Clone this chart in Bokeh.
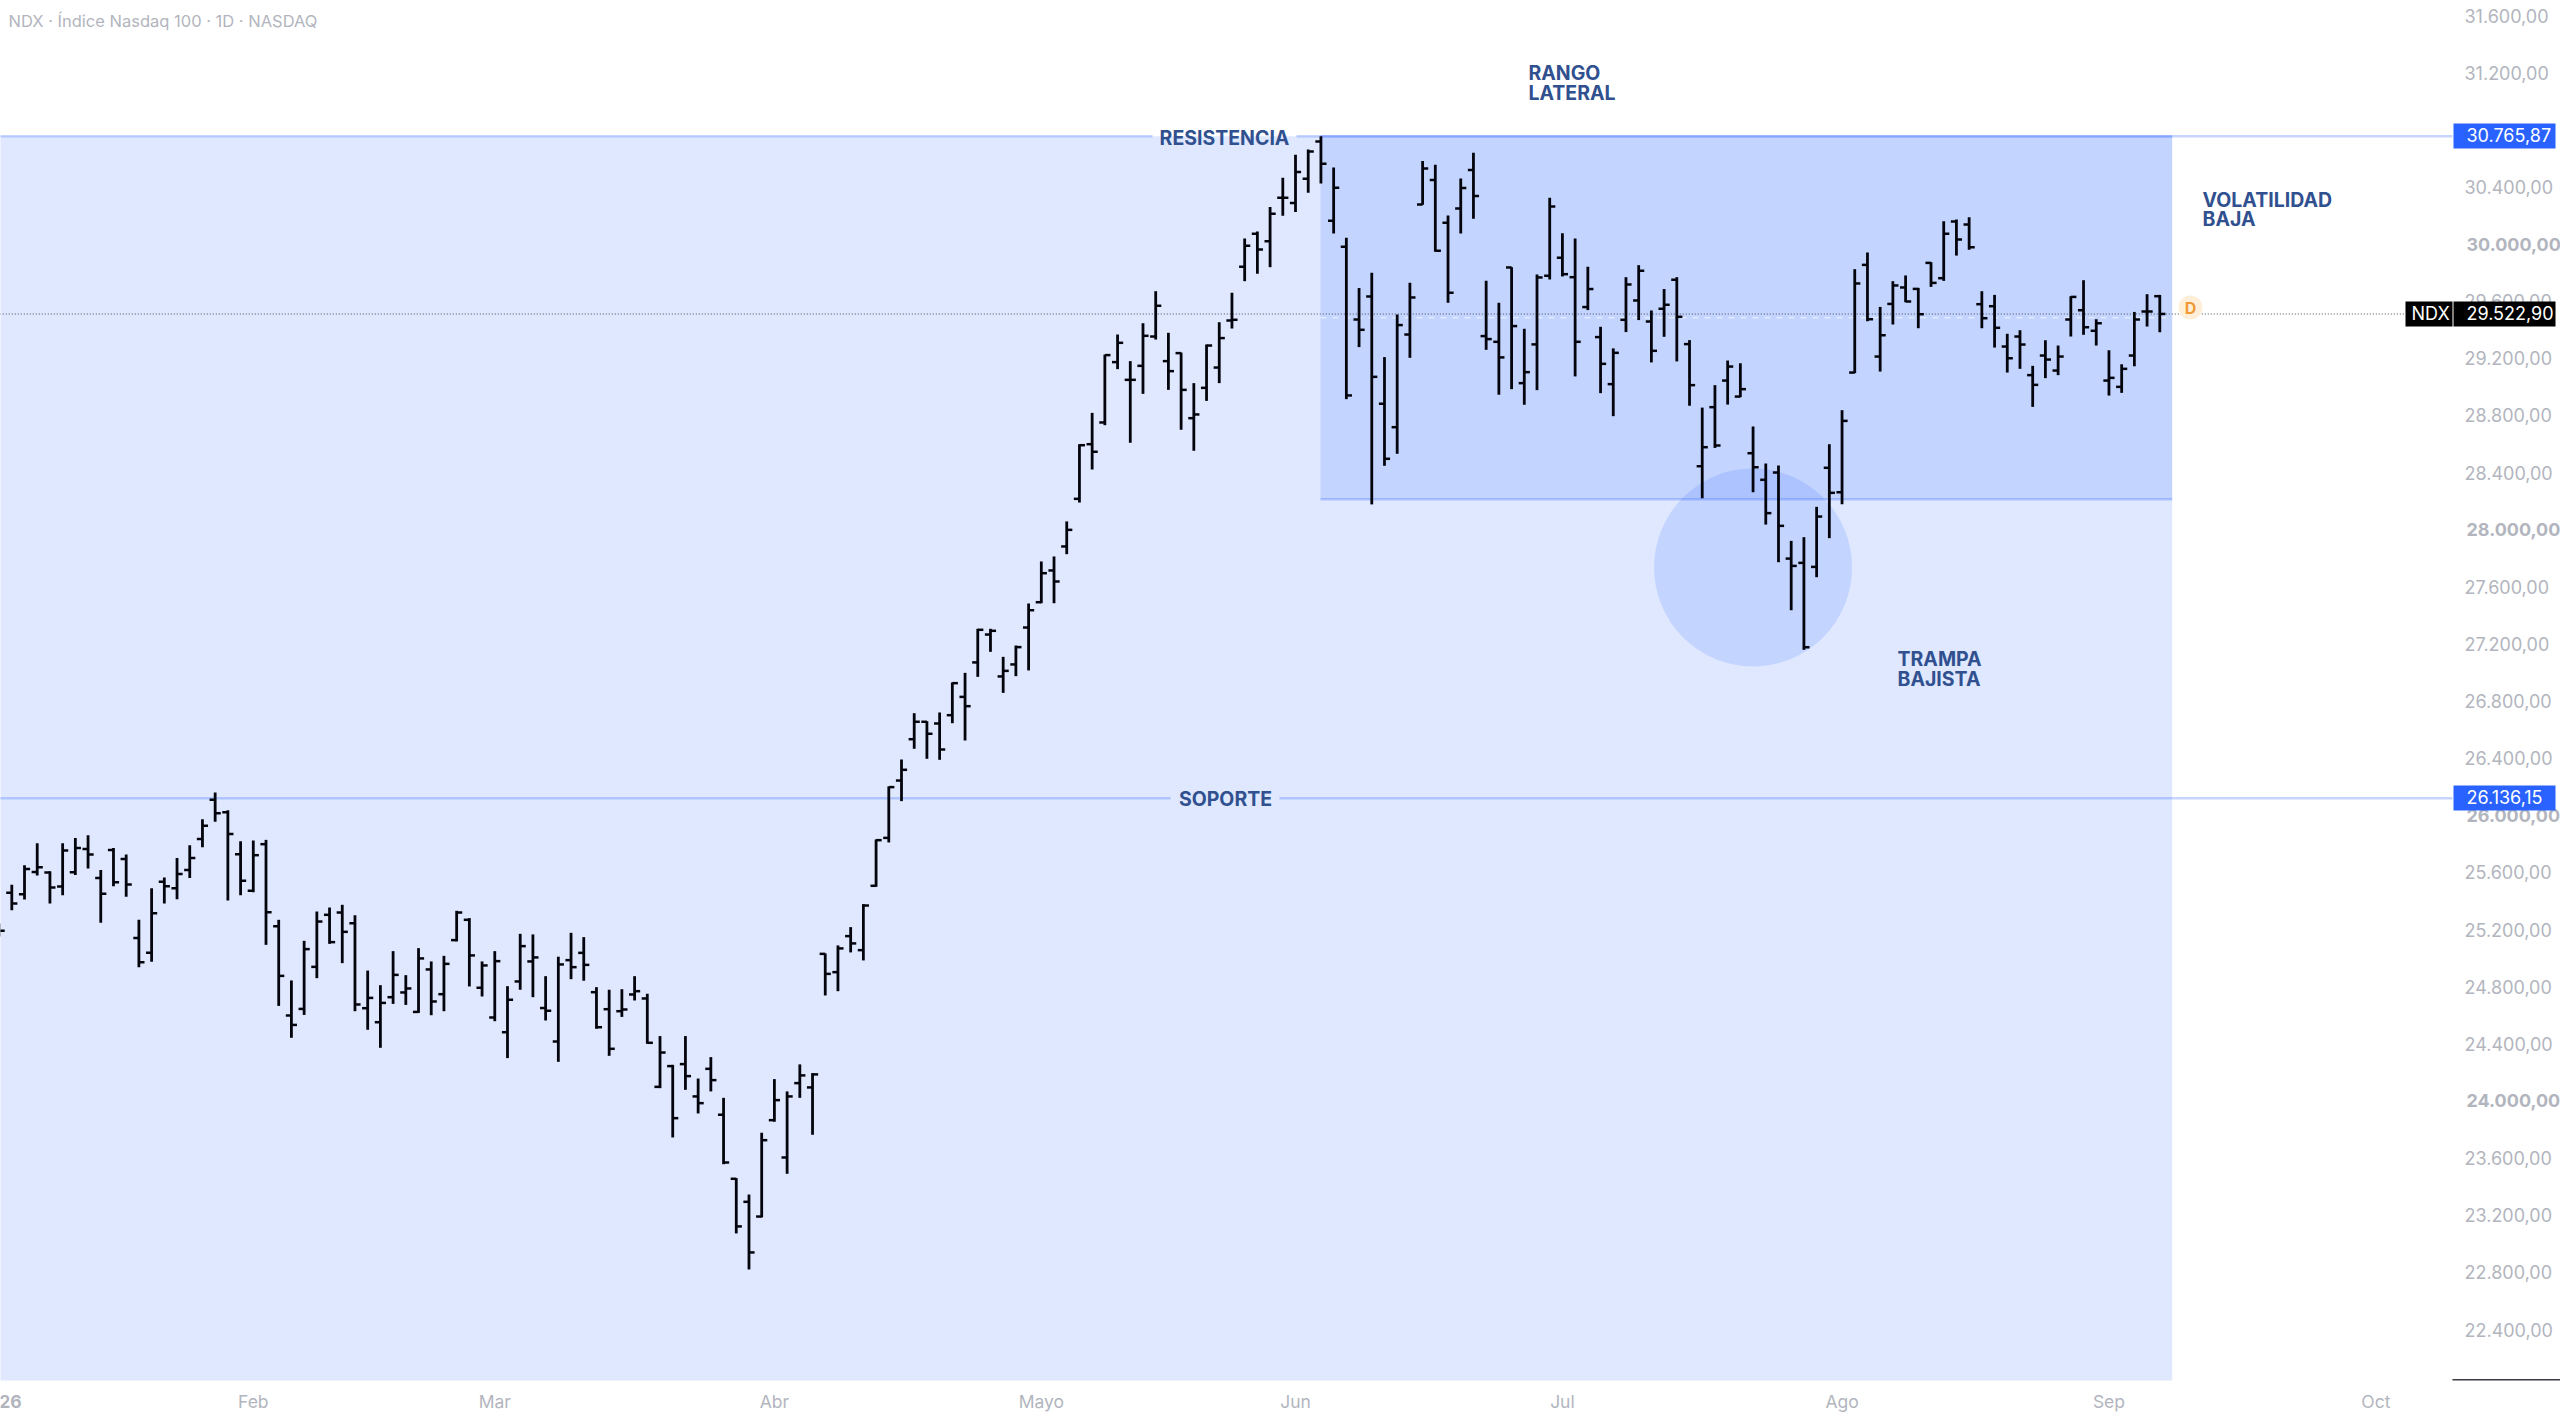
from bokeh.plotting import figure
from bokeh.embed import file_html
from bokeh.resources import INLINE
from bokeh.models import Range1d, FixedTicker, Label
from bokeh.core.properties import value

# ---- OHLC values, one entry per daily bar, starting with the bar cut by the left edge ----
opens = [25230,25475,25465,25621,25617,25519,25619,25782,25579,25775,25712,25158,25055,25552,25507,25635,25852,26125,26039,25745,25489,
25815,25241,24617,24663,24957,25321,25337,25262,24668,24570,24745,24778,24642,24939,24766,25144,25286,24811,24603,24500,
24855,24995,24669,24435,25004,25055,24780,24661,24647,24764,24736,24118,24263,24277,24051,24244,23923,23475,23314,23211,
23885,23624,24144,24114,25048,24920,25172,25074,25524,25859,26260,26549,26671,26659,26717,26845,27086,27281,26988,27072,
27330,27507,27729,27897,28230,28612,28764,29186,29062,29160,29365,29193,29249,28794,29006,29148,29477,29853,30083,30032,
30335,30298,30468,30729,30174,29993,29484,29645,28895,28731,29379,30289,30459,30160,30261,30529,29368,29328,29848,29039,
29310,29790,29916,29780,29571,29361,29032,29482,29617,29470,29559,29762,29312,28458,28871,29057,28945,28549,28363,28414,
27812,27782,27754,28447,28276,29113,29866,29225,29593,29708,29698,29880,29773,30169,30148,29591,29577,29295,29365,29095,
29232,29127,29484,29549,29405,29057,29013,29232,29540,29647]
highs = [25260,25531,25668,25822,25626,25822,25859,25878,25635,25789,25743,25286,25507,25582,25719,25808,25990,26176,26053,25836,25841,
25845,25286,24862,25139,25344,25372,25391,25318,24931,24829,25067,24899,25088,24995,25034,25349,25298,24995,25067,24822,
25188,25184,24892,25028,25195,25165,24815,24797,24801,24892,24769,24473,24272,24473,24176,24326,24041,23480,23365,23797,
24172,24086,24275,24214,25051,25107,25235,25396,25848,26219,26407,26731,26675,26736,26946,27013,27321,27321,27125,27204,
27498,27792,27827,28072,28612,28831,29239,29379,29193,29458,29682,29391,29253,29039,29309,29465,29671,30051,30100,30270,
30475,30636,30673,30766,30547,30055,29704,29811,29221,29519,29741,30592,30566,30212,30470,30650,29755,29601,29850,29419,
29799,30335,30088,30051,29853,29433,29282,29780,29864,29547,29697,29780,29340,28868,29025,29197,29178,28736,28477,28463,
27936,27962,28174,28612,28850,29836,29952,29572,29752,29792,29705,29885,30171,30183,30199,29682,29656,29384,29409,29160,
29339,29302,29647,29759,29486,29269,29171,29537,29661,29656]
lows = [25170,25353,25428,25596,25400,25458,25600,25645,25265,25521,25447,24955,24992,25400,25430,25579,25794,25971,25421,25458,25479,
25111,24684,24461,24621,24878,25118,24983,24647,24517,24391,24698,24691,24635,24619,24647,25135,24820,24750,24577,24319,
24797,24745,24582,24293,24871,24860,24524,24335,24607,24722,24419,24109,23764,24097,23932,24086,23577,23093,22841,23205,
23874,23510,24041,23783,24757,24787,25058,25002,25517,25827,26116,26482,26412,26405,26661,26540,26985,27160,26873,26990,
27030,27500,27500,27843,28204,28435,28745,29137,28622,28964,29344,28992,28713,28566,28915,29039,29421,29752,29804,29850,
30209,30235,30370,30435,30086,28927,29291,28191,28461,28545,29216,30286,29958,29601,30086,30188,29272,28958,28997,28888,
28990,29764,29785,29086,29550,28969,28808,29396,29480,29184,29363,29191,28881,28234,28586,28889,28941,28276,28050,27787,
27451,27174,27682,27955,28192,29109,29472,29120,29449,29605,29423,29712,29754,29931,29971,29423,29288,29113,29139,28873,
29074,29095,29365,29377,29302,28952,28971,29157,29435,29395]
closes = [25209,25400,25642,25654,25512,25771,25789,25743,25468,25549,25533,24990,25332,25521,25607,25719,25943,26032,25887,25559,25738,
25339,24894,24551,25081,25274,25130,25202,24694,24740,24705,24901,24806,25016,24715,24978,25337,25037,24967,24997,24727,
25102,25023,24650,24974,24955,24971,24535,24384,24659,24787,24426,24358,23899,24193,24004,24165,23589,23142,22960,23745,
24025,24051,24198,24205,24908,25086,25121,25386,25843,26214,26335,26671,26587,26477,26941,26780,27314,27307,27027,27193,
27451,27710,27652,28013,28605,28559,29235,29321,29062,29370,29580,29123,28992,28820,29302,29354,29482,30000,29974,30223,
30335,30515,30659,30573,30405,28953,29412,29083,28510,29445,29638,30540,29965,29671,30403,30347,29347,29219,29438,29116,
29778,30275,29801,29328,29697,29174,29251,29729,29825,29265,29587,29503,29025,28591,28603,29155,28997,28451,28130,28041,
27761,27192,28106,28272,28775,29736,29486,29374,29722,29610,29521,29740,30083,30043,29990,29493,29426,29213,29309,29027,
29204,29225,29642,29430,29458,29076,29139,29484,29540,29522.9]

y_ticks = [22400,22800,23200,23600,24000,24400,24800,25200,25600,26000,26400,26800,27200,27600,28000,28400,28800,29200,29600,30000,30400,31200,31600]
y_tick_labels = ["22.400,00","22.800,00","23.200,00","23.600,00","24.000,00","24.400,00","24.800,00","25.200,00","25.600,00","26.000,00","26.400,00","26.800,00","27.200,00","27.600,00","28.000,00","28.400,00","28.800,00","29.200,00","29.600,00","30.000,00","30.400,00","31.200,00","31.600,00"]
y_bold = [24000, 26000, 28000, 30000]
x_ticks = [19, 38, 60, 81, 101, 122, 144, 165, 186]
x_tick_labels = ["Feb", "Mar", "Abr", "Mayo", "Jun", "Jul", "Ago", "Sep", "Oct"]
year_tick = -1
year_label = "2026"

resistance = 30765.87
support = 26136.15
last_price = 29522.90
range_low = 28227.6
trap_center = (137.0, 27750.0)

BLUE = "#2962FF"
NAVY = "#30508F"
GREY = "#B2B5BE"
FONT = "Inter"

W, H = 2560, 1414
AXIS_X = 2452
AXIS_Y = 1380

# placement helpers: reference pixel -> data position, used for annotations only
def fx(px):
    return (px - 11.3) / 12.71
def fy(py):
    return 31714.8 - 6.993 * py
# the price scale's labels sit a little above the level they name
def ftick(py):
    return 31600 - (py - 15) * 9200 / 1314

p = figure(width=W, height=H, output_backend="svg", toolbar_location=None,
           x_range=Range1d(fx(0), fx(W)), y_range=Range1d(fy(H), fy(0)),
           extra_y_ranges={"ticks": Range1d(ftick(H), ftick(0))},
           y_axis_location="right", min_border=0,
           background_fill_color="white", border_fill_color="white", outline_line_color=None)
p.grid.visible = False

p.yaxis.y_range_name = "ticks"
p.yaxis.fixed_location = fx(AXIS_X)
p.yaxis.ticker = FixedTicker(ticks=y_ticks)
p.yaxis.major_label_overrides = {t: ("" if t in y_bold else l) for t, l in zip(y_ticks, y_tick_labels)}
p.yaxis.axis_line_color = None
p.yaxis.major_tick_line_color = None
p.yaxis.minor_tick_line_color = None
p.yaxis.major_label_standoff = 6
p.yaxis.major_label_text_font = FONT
p.yaxis.major_label_text_font_size = "18px"
p.yaxis.major_label_text_color = GREY

p.xaxis.fixed_location = fy(AXIS_Y)
p.xaxis.ticker = FixedTicker(ticks=x_ticks + [year_tick])
p.xaxis.major_label_overrides = {**dict(zip(x_ticks, x_tick_labels)), year_tick: ""}
p.xaxis.axis_line_color = None
p.xaxis.major_tick_line_color = None
p.xaxis.minor_tick_line_color = None
p.xaxis.major_label_standoff = 4
p.xaxis.major_label_text_font = FONT
p.xaxis.major_label_text_font_size = "17.5px"
p.xaxis.major_label_text_color = GREY

# shaded zones
xl, xr = fx(0) - 1, fx(2171.7)
p.quad(left=[xl], right=[xr], top=[resistance], bottom=[fy(AXIS_Y)], fill_color=BLUE, fill_alpha=0.15, line_color=None)
p.quad(left=[fx(1320)], right=[xr], top=[resistance], bottom=[range_low], fill_color=BLUE, fill_alpha=0.15, line_color=None)
p.scatter(x=[trap_center[0]], y=[trap_center[1]], size=198, marker="circle", fill_color=BLUE, fill_alpha=0.15, line_color=None)

# horizontal levels with a gap for their caption
for level, g0, g1 in [(resistance, 1152, 1296), (support, 1170, 1279)]:
    p.segment(x0=[xl, fx(g1)], x1=[fx(g0), fx(AXIS_X)], y0=[level, level], y1=[level, level],
              line_color=BLUE, line_alpha=0.26, line_width=2.5)
p.segment(x0=[fx(1320), fx(1320)], x1=[xr, xr], y0=[resistance, range_low], y1=[resistance, range_low],
          line_color=BLUE, line_alpha=0.26, line_width=2.5)
p.line(x=[fx(1320), xr], y=[(resistance + range_low) / 2] * 2, line_color="white", line_alpha=0.75, line_width=1.1, line_dash="6 6")
p.line(x=[xl, fx(2405)], y=[last_price] * 2, line_color="#4a4d57", line_width=1.1, line_dash="1 2")

# OHLC bars
idx = list(range(-1, len(opens) - 1))
TICK = 0.44
p.segment(x0=idx, x1=idx, y0=lows, y1=highs, line_color="#04040c", line_width=2.8)
p.segment(x0=[i - TICK for i in idx], x1=idx, y0=opens, y1=opens, line_color="#04040c", line_width=2.5)
p.segment(x0=idx, x1=[i + TICK for i in idx], y0=closes, y1=closes, line_color="#04040c", line_width=2.5)

# D marker
p.scatter(x=[fx(2190)], y=[fy(307)], size=24, marker="circle", fill_color="#FFEFD9", line_color=None)
p.text(x=[fx(2190)], y=[fy(307)], text=["D"], text_align="center", text_baseline="middle",
       text_font=value(FONT), text_font_style="bold", text_font_size="16px", text_color="#F09A37")

# captions
def cap(px, py, s, align="left"):
    p.text(x=[fx(px)], y=[fy(py)], text=[s], text_align=align, text_baseline="middle", text_font=value(FONT),
           text_font_style="bold", text_font_size="19.5px", text_color=NAVY)

cap(1528, 72, "RANGO")
cap(1528, 92, "LATERAL")
cap(2202, 199, "VOLATILIDAD")
cap(2202, 218, "BAJA")
cap(1897, 658, "TRAMPA")
cap(1897, 678, "BAJISTA")
cap(1224, 137, "RESISTENCIA", "center")
cap(1225, 798, "SOPORTE", "center")

p.text(x=[fx(8)], y=[fy(20)], text=["NDX · Índice Nasdaq 100 · 1D · NASDAQ"], text_align="left", text_baseline="middle",
       text_font=value(FONT), text_font_size="16.5px", text_color=GREY)

# bold tick labels
for t, l in zip(y_ticks, y_tick_labels):
    if t in y_bold:
        p.add_layout(Label(x=fx(2466), y=t, y_range_name="ticks", text=l, text_font=FONT, text_font_size="18px", text_font_style="bold",
                           text_color=GREY, text_baseline="middle", text_align="left"))
p.add_layout(Label(x=year_tick, y=fy(1401), text=year_label, text_font=FONT, text_font_size="17.5px", text_font_style="bold",
                   text_color=GREY, text_baseline="middle", text_align="center"))

# price tags drawn above the axis labels
def tag(left, right, top, bottom, tx, s, color):
    p.quad(left=[fx(left)], right=[fx(right)], top=[fy(top)], bottom=[fy(bottom)], fill_color=color, line_color=None, level="overlay")
    p.text(x=[fx(tx)], y=[fy((top + bottom) / 2 - 1)], text=[s], text_align="left", text_baseline="middle", text_font=value(FONT),
           text_font_size="18px", text_color="white", level="overlay")

tag(2453, 2555, 123, 148, 2466, "30.765,87", BLUE)
tag(2453, 2555, 785, 810, 2466, "26.136,15", BLUE)
tag(2405, 2452, 301, 326, 2411, "NDX", "black")
tag(2453, 2555, 301, 326, 2466, "29.522,90", "black")

# corner line of the axes
p.quad(left=[fx(2452)], right=[fx(W)], top=[fy(1378.5)], bottom=[fy(1380)], fill_color="#3a3d45", line_color=None)

open("out.html", "w").write(file_html(p, INLINE))
